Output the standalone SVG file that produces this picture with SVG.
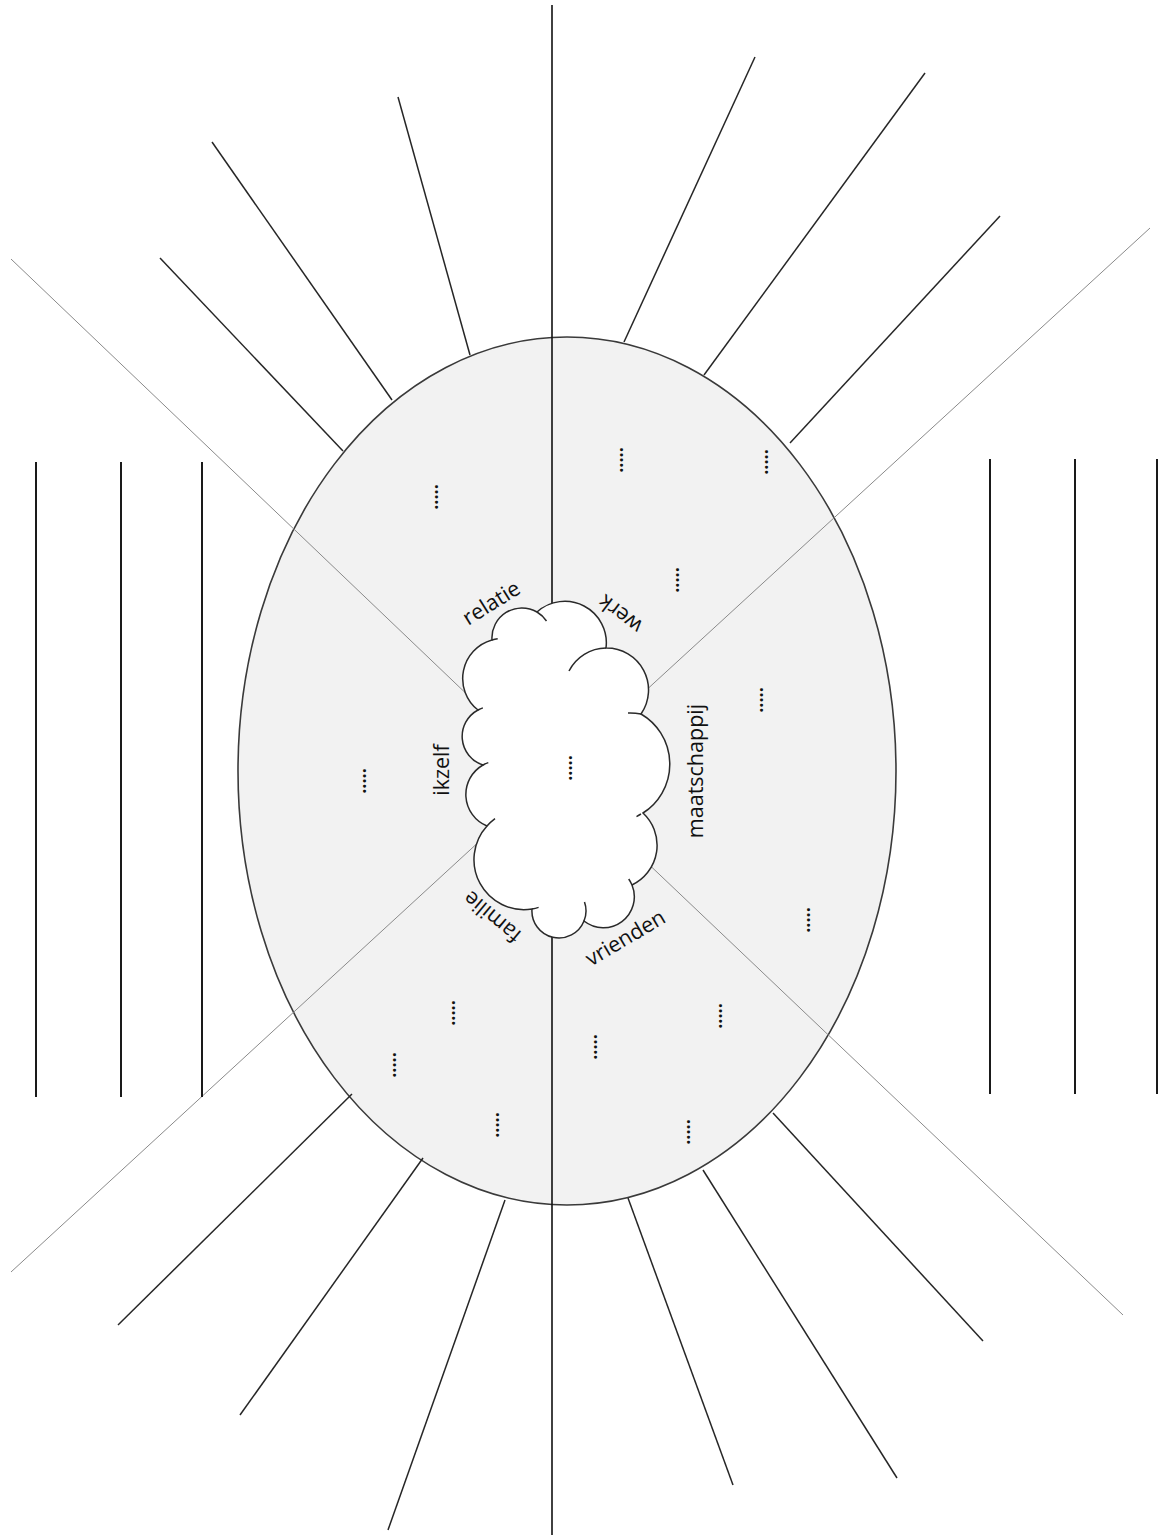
<svg xmlns="http://www.w3.org/2000/svg" width="1168" height="1535" viewBox="0 0 1168 1535">
<style>
.ray{stroke:#262626;stroke-width:1.5;fill:none}
.bar{stroke:#1a1a1a;stroke-width:2;fill:none}
.diag{stroke:#8a8a8a;stroke-width:1;fill:none}
.axis{stroke:#111;stroke-width:1.6;fill:none}
.lbl{font-family:"Open Sans","Noto Sans",sans-serif;font-size:21.5px;fill:#111;text-anchor:middle}
.dots{font-family:"Open Sans","Noto Sans",sans-serif;font-size:18px;font-weight:bold;fill:#111;text-anchor:middle}
</style>
<rect width="1168" height="1535" fill="#fff"/>
<g id="egg">
<ellipse cx="567" cy="771" rx="329" ry="434" fill="#f2f2f2" stroke="#3a3a3a" stroke-width="1.6"/>
</g>
<g id="connectors">
<line class="axis" x1="552" y1="5" x2="552" y2="1535"/>
<line class="diag" x1="11" y1="259" x2="475" y2="702"/>
<line class="diag" x1="1150" y1="228" x2="630" y2="705"/>
<line class="diag" x1="11" y1="1272" x2="495" y2="827"/>
<line class="diag" x1="1123" y1="1315" x2="640" y2="856"/>
<line class="ray" x1="398" y1="97" x2="470" y2="355"/>
<line class="ray" x1="212" y1="142" x2="392" y2="400"/>
<line class="ray" x1="160" y1="258" x2="343" y2="451"/>
<line class="ray" x1="755" y1="57" x2="624" y2="342"/>
<line class="ray" x1="925" y1="73" x2="704" y2="375"/>
<line class="ray" x1="1000" y1="216" x2="790" y2="443"/>
<line class="ray" x1="352" y1="1094" x2="118" y2="1325"/>
<line class="ray" x1="423" y1="1158" x2="240" y2="1415"/>
<line class="ray" x1="505" y1="1200" x2="388" y2="1530"/>
<line class="ray" x1="773" y1="1113" x2="983" y2="1341"/>
<line class="ray" x1="703" y1="1170" x2="897" y2="1478"/>
<line class="ray" x1="628" y1="1198" x2="733" y2="1485"/>
<line class="bar" x1="36" y1="462" x2="36" y2="1097"/>
<line class="bar" x1="121" y1="462" x2="121" y2="1097"/>
<line class="bar" x1="202" y1="462" x2="202" y2="1097"/>
<line class="bar" x1="990" y1="459" x2="990" y2="1094"/>
<line class="bar" x1="1075" y1="459" x2="1075" y2="1094"/>
<line class="bar" x1="1157" y1="459" x2="1157" y2="1094"/>
</g>
<g id="cloud">
<path d="M537,612 A41.5,41.5 0 0 1 606,648 A42,42 0 0 1 641,714 A58,58 0 0 1 643,813 A44,44 0 0 1 632,885 A31,31 0 0 1 584,921 A27,27 0 0 1 532,909 A50,50 0 0 1 487,826 A34,34 0 0 1 483,765 A30,30 0 0 1 478,710 A40,40 0 0 1 492,640 A30,30 0 0 1 537,612 Z" fill="#fff" stroke="#2a2a2a" stroke-width="1.5"/>
<path d="M537,612 A30,30 0 0 1 546.5,621 M569,671 A42,42 0 0 1 606,648 M628,713 A58,58 0 0 1 641,714 M641,814 A58,58 0 0 1 636.5,816.6 M628.7,879 A31,31 0 0 1 632,885 M584.5,902 A27,27 0 0 1 584,921 M538.6,907.4 A50,50 0 0 1 532,909 M487,826 A50,50 0 0 1 495,818.6 M483,765 A34,34 0 0 1 488.3,762.6 M478,710 A30,30 0 0 1 482.9,707.9 M492,640 A40,40 0 0 1 497.7,638.8" fill="none" stroke="#2a2a2a" stroke-width="1.5"/>
<text class="dots" transform="translate(572,768) rotate(-90)" y="0">.....</text>
</g>
<g id="label-relatie"><text class="lbl" transform="translate(492,604) rotate(-32)" y="6">relatie</text></g>
<g id="label-werk"><text class="lbl" transform="translate(621,613) rotate(217)" y="6">werk</text></g>
<g id="label-ikzelf"><text class="lbl" transform="translate(443,770) rotate(-90)" y="6">ikzelf</text></g>
<g id="label-maatschappij"><text class="lbl" transform="translate(697,771) rotate(-90)" y="6">maatschappij</text></g>
<g id="label-familie"><text class="lbl" transform="translate(493,916) rotate(220)" y="6">familie</text></g>
<g id="label-vrienden"><text class="lbl" transform="translate(626,939) rotate(-30.6)" y="6">vrienden</text></g>
<g id="dots">
<text class="dots" transform="translate(438,497) rotate(-90)">.....</text>
<text class="dots" transform="translate(623,460) rotate(-90)">.....</text>
<text class="dots" transform="translate(768,462) rotate(-90)">.....</text>
<text class="dots" transform="translate(679,580) rotate(-90)">.....</text>
<text class="dots" transform="translate(763,700) rotate(-90)">.....</text>
<text class="dots" transform="translate(366,781) rotate(-90)">.....</text>
<text class="dots" transform="translate(810,920) rotate(-90)">.....</text>
<text class="dots" transform="translate(455,1013) rotate(-90)">.....</text>
<text class="dots" transform="translate(396,1065) rotate(-90)">.....</text>
<text class="dots" transform="translate(499,1125) rotate(-90)">.....</text>
<text class="dots" transform="translate(597,1047) rotate(-90)">.....</text>
<text class="dots" transform="translate(722,1016) rotate(-90)">.....</text>
<text class="dots" transform="translate(690,1132) rotate(-90)">.....</text>
</g>
</svg>
